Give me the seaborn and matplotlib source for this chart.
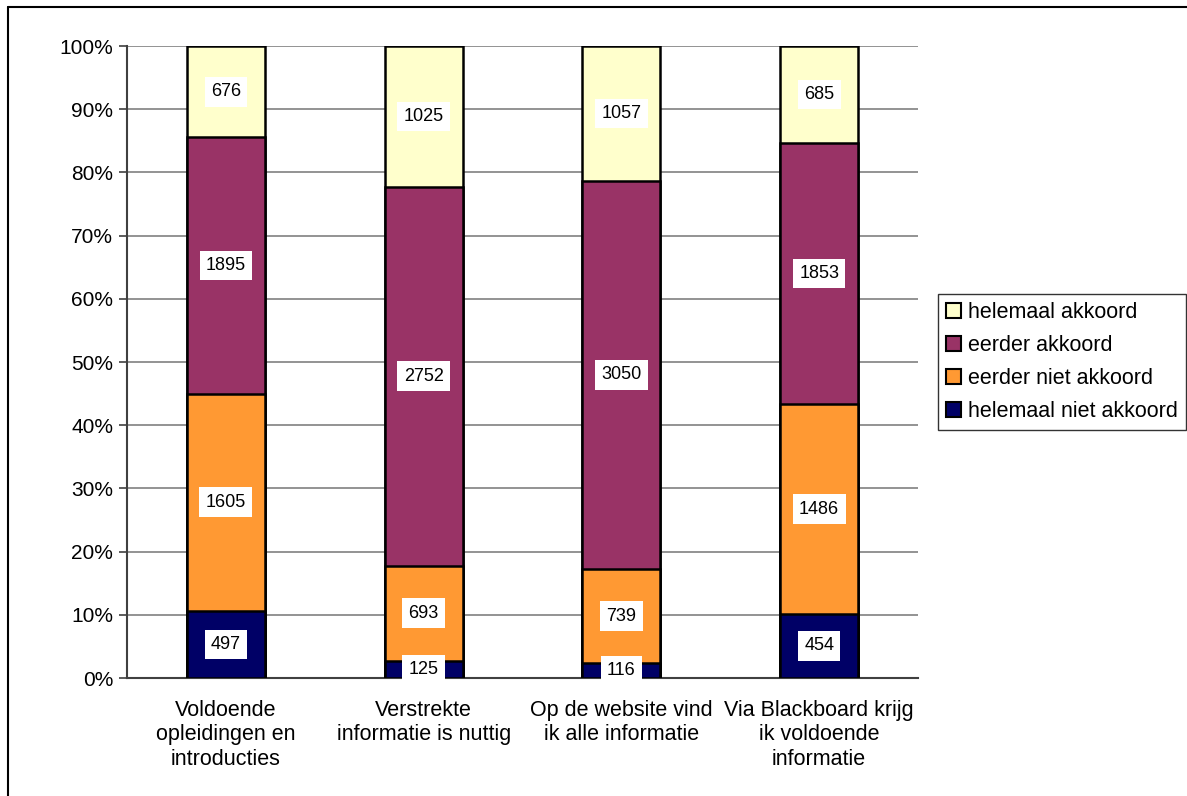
import numpy as np
import pandas as pd
import matplotlib
matplotlib.use("Agg")
import matplotlib.pyplot as plt
import seaborn as sns
from matplotlib.patches import Patch
from matplotlib.lines import Line2D

# ========== 数据 ==========
categories = [
    "Voldoende\nopleidingen en\nintroducties",
    "Verstrekte\ninformatie is nuttig",
    "Op de website vind\nik alle informatie",
    "Via Blackboard krijg\nik voldoende\ninformatie",
]
series_names = ["helemaal niet akkoord", "eerder niet akkoord", "eerder akkoord", "helemaal akkoord"]
helemaal_niet = [497, 125, 116, 454]
eerder_niet = [1605, 693, 739, 1486]
eerder = [1895, 2752, 3050, 1853]
helemaal = [676, 1025, 1057, 685]
colors = ["#000066", "#FF9933", "#993366", "#FFFFCC"]

sns.set_theme(style="white")
plt.rcParams["font.family"] = ["Liberation Sans", "DejaVu Sans"]
plt.rcParams["text.color"] = "black"
plt.rcParams["xtick.color"] = "black"
plt.rcParams["ytick.color"] = "black"

counts = np.array([helemaal_niet, eerder_niet, eerder, helemaal], dtype=float)
pct = counts / counts.sum(axis=0) * 100
cum = np.cumsum(pct, axis=0)

fig = plt.figure(figsize=(11.87, 7.96), dpi=100)
ax = fig.add_axes([0.107, 0.1482, 0.6664, 0.794])

# 从最上层往下画累计值，后画的盖住前面的
for i in range(3, -1, -1):
    df = pd.DataFrame({"cat": categories, "val": cum[i]})
    sns.barplot(data=df, x="cat", y="val", color=colors[i], saturation=1,
                width=0.395, edgecolor="black", linewidth=1.8, ax=ax, zorder=3)

# 数据标签
for j in range(len(categories)):
    for i in range(4):
        y = cum[i, j] - pct[i, j] / 2
        ax.text(j, y, f"{int(counts[i, j])}", ha="center", va="center", fontsize=13,
                color="black", zorder=5,
                bbox=dict(facecolor="white", edgecolor="none", pad=4.5))

ax.set_xlim(-0.5, 3.5)
ax.set_ylim(0, 100)
ax.set_yticks(np.arange(0, 101, 10))
ax.set_yticklabels([f"{v}%" for v in range(0, 101, 10)], fontsize=15)
ax.set_xticks(range(4))
ax.set_xticklabels(categories, fontsize=15.5, linespacing=1.2)
ax.set_xticks([-0.5, 0.5, 1.5, 2.5, 3.5], minor=True)
ax.tick_params(axis="x", which="major", length=0, pad=16)
ax.tick_params(axis="x", which="minor", length=6, width=1.2, color="#404040", direction="out")
ax.tick_params(axis="y", length=6, width=1.2, color="#404040", labelcolor="black",
               direction="out", pad=4, left=True)
ax.set_xlabel("")
ax.set_ylabel("")
ax.grid(axis="y", color="#808080", linewidth=1.2, zorder=0)
ax.set_axisbelow(True)
for s in ["top", "right"]:
    ax.spines[s].set_visible(False)
ax.spines["left"].set_color("#404040")
ax.spines["bottom"].set_color("#404040")
ax.spines["left"].set_linewidth(1.5)
ax.spines["bottom"].set_linewidth(1.5)

# 图例
handles = [Patch(facecolor=colors[i], edgecolor="black", linewidth=1.5) for i in range(3, -1, -1)]
labels = [series_names[i] for i in range(3, -1, -1)]
leg = fig.legend(handles, labels, loc="upper left", bbox_to_anchor=(0.790, 0.631),
                 fontsize=15.5, frameon=True, fancybox=False, edgecolor="black",
                 handlelength=0.7, handleheight=0.7, handletextpad=0.3,
                 labelspacing=0.55, borderpad=0.4, borderaxespad=0)
leg.get_frame().set_linewidth(1.0)

# 外框（只有上边和左边）
fig.add_artist(Line2D([8 / 1187, 1], [1 - 7 / 796, 1 - 7 / 796], color="black", linewidth=1.5))
fig.add_artist(Line2D([8 / 1187, 8 / 1187], [0, 1 - 7 / 796], color="black", linewidth=1.5))

fig.savefig("out.png", dpi=100)
